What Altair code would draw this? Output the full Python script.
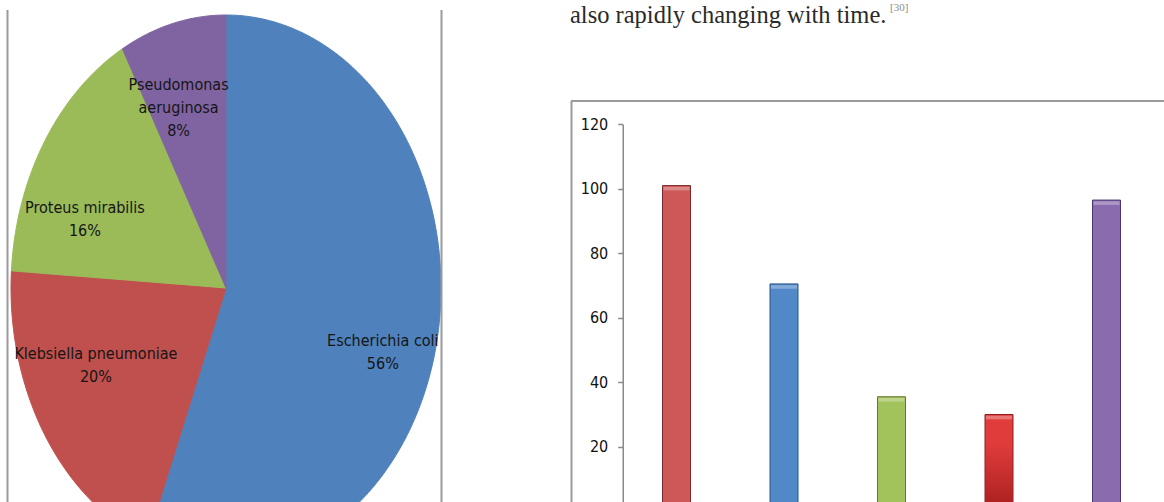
import math
import altair as alt
import pandas as pd

# ---------------- data ----------------
# Pie chart: share of isolated organisms (%)
organisms = ["Escherichia coli", "Klebsiella pneumoniae", "Proteus mirabilis", "Pseudomonas aeruginosa"]
shares = [56, 20, 16, 8]
pie_colors = ["#4F81BD", "#C0504D", "#9BBB59", "#8064A2"]
pie_labels = ["Escherichia coli\n56%", "Klebsiella pneumoniae\n20%",
              "Proteus mirabilis\n16%", "Pseudomonas\naeruginosa\n8%"]

# Bar chart (x labels are outside the visible crop)
bar_cats = ["1", "2", "3", "4", "5"]
bar_values = [101, 70.5, 35.5, 30, 96.5]
bar_fills = ["#CD5858", "#5088C8", "#A2C25C", "#E03C3C", "#8A6BAE"]
bar_strokes = ["#7E2A2A", "#2E5587", "#62792F", "#8E1E1E", "#4A3570"]
y_ticks = [20, 40, 60, 80, 100, 120]

top_text = "also rapidly changing with time."
top_ref = "[30]"

# ---------------- pie geometry (derived from shares) ----------------
total = sum(shares)
poly_rows, label_rows = [], []
start = 0.0
for name, v, lab in zip(organisms, shares, pie_labels):
    a0 = start / total * 2 * math.pi
    a1 = (start + v) / total * 2 * math.pi
    n = max(3, int(v * 4))
    pts = [(0.0, 0.0)]
    for k in range(n + 1):
        a = a0 + (a1 - a0) * k / n
        pts.append((math.sin(a), math.cos(a)))
    pts.append((0.0, 0.0))
    for i, (px, py) in enumerate(pts):
        poly_rows.append({"organism": name, "i": i, "px": px, "py": py})
    am = (a0 + a1) / 2
    label_rows.append({"organism": name, "lx": 0.7 * math.sin(am), "ly": 0.7 * math.cos(am), "label": lab})
    start += v

poly_df = pd.DataFrame(poly_rows)
label_df = pd.DataFrame(label_rows)
bar_df = pd.DataFrame({"cat": bar_cats, "value": bar_values})

FONT_NARROW = "'Liberation Sans Narrow', 'DejaVu Sans Condensed', 'Arial Narrow', sans-serif"

px_scale = alt.Scale(domain=[-1, 1], range=[11, 441], nice=False, zero=False)
py_scale = alt.Scale(domain=[-1, 1], range=[561, 15], nice=False, zero=False)
pie_color_scale = alt.Scale(domain=organisms, range=pie_colors)

pie = alt.Chart(poly_df).mark_line(filled=True, strokeWidth=1, interpolate="linear").encode(
    x=alt.X("px:Q", scale=px_scale, axis=None),
    y=alt.Y("py:Q", scale=py_scale, axis=None),
    color=alt.Color("organism:N", scale=pie_color_scale, legend=None),
    stroke=alt.Stroke("organism:N", scale=pie_color_scale, legend=None),
    order=alt.Order("i:Q"),
)

label_offsets = {
    "Escherichia coli": (9, 17),
    "Klebsiella pneumoniae": (-3, -36),
    "Proteus mirabilis": (-14, 22),
    "Pseudomonas aeruginosa": (-10, -18),
}
label_layers = []
for name in organisms:
    dx, dy = label_offsets[name]
    label_layers.append(
        alt.Chart(label_df).transform_filter(alt.datum.organism == name).mark_text(
            font=FONT_NARROW, fontSize=16, lineHeight=23, lineBreak="\n",
            align="center", baseline="middle", color="#151515", dx=dx, dy=dy,
        ).encode(
            x=alt.X("lx:Q", scale=px_scale, axis=None),
            y=alt.Y("ly:Q", scale=py_scale, axis=None),
            text="label:N",
        )
    )

pie_layer = alt.layer(pie, *label_layers)

# ---------------- bars ----------------
x_bar = alt.X("cat:N", sort=bar_cats,
              scale=alt.Scale(domain=bar_cats, range=[622.75, 1160.25], paddingInner=0, paddingOuter=0),
              axis=None)
y_scale_bar = alt.Scale(domain=[0, 120], range=[511.2, 124.3], nice=False, zero=True)
y_axis_bar = alt.Axis(orient="left", offset=-622.75, values=y_ticks, title=None, grid=False,
                      tickSize=5, tickWidth=1.5, tickColor="#8A8A8A",
                      domainColor="#8A8A8A", domainWidth=1.5,
                      labelPadding=10, labelFontSize=16, labelColor="#111111",
                      labelFont="'DejaVu Sans Condensed', 'Liberation Sans', sans-serif")

bars = alt.Chart(bar_df).mark_bar(size=28, strokeWidth=1).encode(
    x=x_bar,
    y=alt.Y("value:Q", scale=y_scale_bar, axis=y_axis_bar),
    color=alt.Color("cat:N", scale=alt.Scale(domain=bar_cats, range=bar_fills), legend=None),
    stroke=alt.Stroke("cat:N", scale=alt.Scale(domain=bar_cats, range=bar_strokes), legend=None),
)

# lighter bevel at the top of every bar
caps = alt.Chart(bar_df).transform_calculate(
    top="datum.value - 0.4", bottom="datum.value - 1.5"
).mark_bar(size=26, color="white", opacity=0.3).encode(
    x=x_bar,
    y=alt.Y("top:Q", scale=y_scale_bar, axis=y_axis_bar),
    y2="bottom:Q",
)

# darker lower part of the bright red bar
shade = alt.Chart(bar_df).transform_filter(alt.datum.cat == "4").mark_bar(
    size=27,
    color=alt.Gradient(
        gradient="linear", x1=0, x2=0, y1=0, y2=1,
        stops=[alt.GradientStop(offset=0.3, color="rgba(120,0,0,0)"),
               alt.GradientStop(offset=1, color="rgba(110,0,0,0.5)")],
    ),
).encode(
    x=x_bar,
    y=alt.Y("value:Q", scale=y_scale_bar, axis=y_axis_bar),
)

bar_layer = alt.layer(bars, caps, shade)

# ---------------- decorations (frames, page text) ----------------
one = alt.Data(values=[{"k": 1}])
frame_color = "#9A9A9A"

def vrule(x, y1, y2):
    return alt.Chart(one).mark_rule(color=frame_color, strokeWidth=2).encode(
        x=alt.value(x), y=alt.value(y1), y2=alt.value(y2))

def hrule(y, x1, x2):
    return alt.Chart(one).mark_rule(color=frame_color, strokeWidth=2).encode(
        y=alt.value(y), x=alt.value(x1), x2=alt.value(x2))

frames = alt.layer(
    vrule(7.5, 10, 510),
    vrule(441.5, 10, 510),
    vrule(571.5, 101, 510),
    hrule(101, 571, 1170),
)

txt = alt.Chart(one).mark_text(
    text=top_text, font="'Liberation Serif', 'Times New Roman', serif", fontSize=24.5,
    align="left", baseline="alphabetic", color="#2A2A2A",
).encode(x=alt.value(570), y=alt.value(23))

ref = alt.Chart(one).mark_text(
    text=top_ref, font="'Liberation Serif', serif", fontSize=11,
    align="left", baseline="alphabetic", color="#8C8C8C",
).encode(x=alt.value(890), y=alt.value(11))

chart = alt.layer(pie_layer, bar_layer, frames, txt, ref).resolve_scale(
    x="independent", y="independent", color="independent", stroke="independent"
).properties(
    width=1164, height=502, padding=0,
    autosize=alt.AutoSizeParams(type="none"),
    background="white",
).configure_view(strokeWidth=0)

chart.save("out.html", embed_options={"renderer": "svg", "actions": False})
